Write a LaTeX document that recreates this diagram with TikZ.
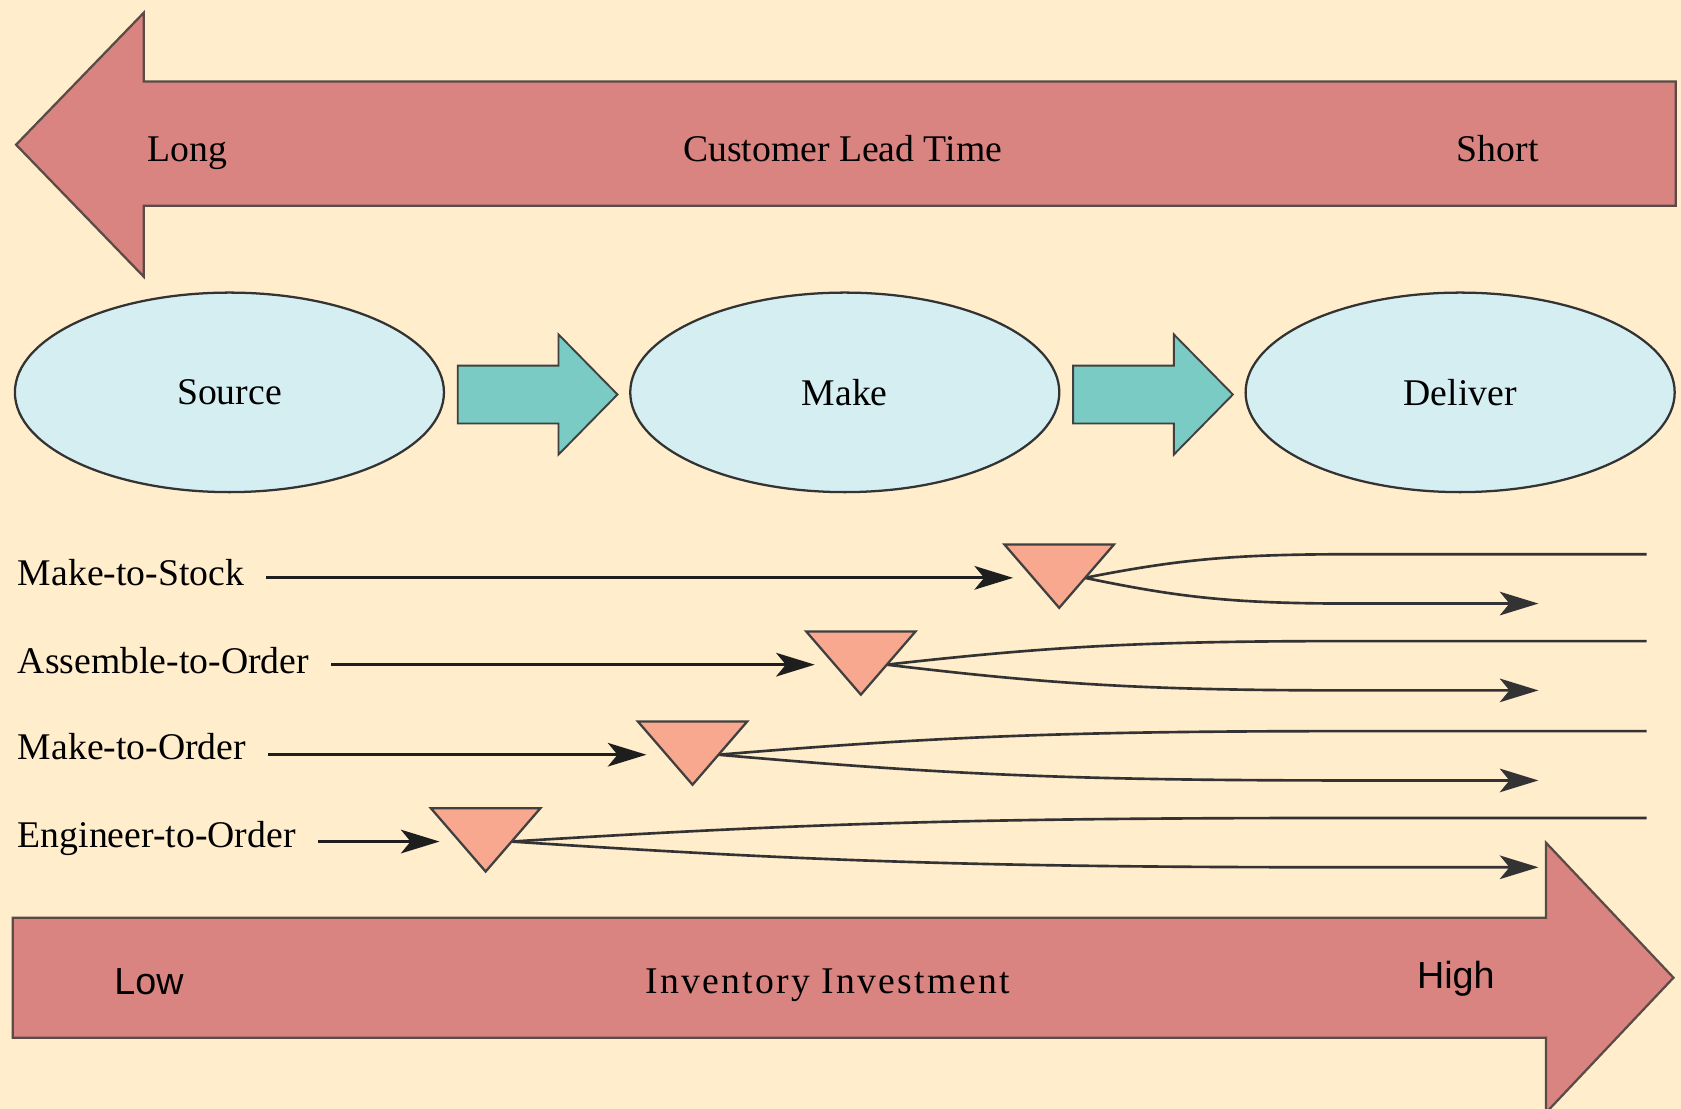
\documentclass[tikz,border=0pt]{standalone}
\usepackage{fontspec}
\setmainfont{Liberation Serif}
\newfontfamily\sansf{Liberation Sans}
\usetikzlibrary{arrows.meta,shapes.geometric,calc}
\definecolor{bgc}{RGB}{255,237,204}
\definecolor{rosef}{RGB}{217,132,128}
\definecolor{bigline}{RGB}{90,75,70}
\definecolor{tealf}{RGB}{121,203,195}
\definecolor{cyanf}{RGB}{213,238,242}
\definecolor{salmonf}{RGB}{247,168,142}
\definecolor{inkc}{RGB}{30,30,30}
\tikzset{
  bigarrow/.style={fill=rosef, draw=bigline, line width=0.6pt, line join=miter},
  tealarrow/.style={fill=tealf, draw=black!75, line width=0.5pt},
  proc/.style={ellipse, fill=cyanf, draw=black!80, line width=0.6pt, minimum width=4cm, minimum height=1.86cm, inner sep=0pt},
  rowlbl/.style={anchor=base west, inner sep=0pt},
  tip/.style={-{Stealth[length=3.6mm,width=2.2mm,inset=0.9mm]}},
  flow/.style={draw=inkc, line width=0.8pt, tip, shorten <=2mm},
  curveline/.style={draw=black!80, line width=0.7pt},
  tri/.style={fill=salmonf, draw=black!75, line width=0.6pt, line join=miter},
  txt/.style={anchor=base, inner sep=0pt}
}
\begin{document}
\begin{tikzpicture}[x=0.01cm, y=-0.01cm, font=\fontsize{10}{12}\selectfont]
\useasboundingbox (0,0) rectangle (1568,1034);
\fill[bgc] (0,0) rectangle (1568,1034);
\begin{scope}
  \clip (0,0) rectangle (1568,1034);
  % top arrow: customer lead time
  \draw[bigarrow] (15,135) -- (134,12) -- (134,76) -- (1563,76) -- (1563,192) -- (134,192) -- (134,258) -- cycle;
  % bottom arrow: inventory investment
  \draw[bigarrow] (12,856) -- (1442,856) -- (1442,786) -- (1561,912) -- (1442,1038) -- (1442,968) -- (12,968) -- cycle;
\end{scope}
\node[txt] (long) at (175,151) {Long};
\node[txt] (clt) at (786,151) {Customer Lead Time};
\node[txt] (short) at (1397,151) {Short};
\node[txt] (low) at (139,928) {\sansf Low};
\node[txt] (inv) at (772,927) {\addfontfeature{LetterSpace=6}Inventory Investment};
\node[txt] (high) at (1358,922) {\sansf High};

% process ellipses
\node[proc] (src) at (214,366) {Source};
\node[proc] (mk) at (788,366) {Make};
\node[proc] (dl) at (1362,366) {Deliver};

% teal arrows between them
\coordinate (a1) at ($(src.east)!0.5!(mk.west)+(0,2)$);
\coordinate (a2) at ($(mk.east)!0.5!(dl.west)+(0,2)$);
\foreach \a in {a1,a2}{
  \draw[tealarrow] ($(\a)+(-74,-27)$) -- ($(\a)+(20,-27)$) -- ($(\a)+(20,-56)$) -- ($(\a)+(75,0)$)
    -- ($(\a)+(20,56)$) -- ($(\a)+(20,27)$) -- ($(\a)+(-74,27)$) -- cycle;
}

% strategy rows
\foreach \i/\lab/\by/\y/\cx in {1/Make-to-Stock/546/539/988, 2/Assemble-to-Order/628/620/803, 3/Make-to-Order/708/704/646, 4/Engineer-to-Order/791/785/453}{
  \node[rowlbl] (l\i) at (16,\by) {\lab};
  \coordinate (apex\i) at (\cx,\y+28);
  \coordinate (tl\i) at (\cx-51,\y-31);
  \coordinate (tr\i) at (\cx+51,\y-31);
  \coordinate (in\i) at (\cx-43,\y);
  \coordinate (s\i) at (\cx+24,\y);
  \pgfmathsetmacro\dd{1260-\cx-24}
  \coordinate (eu\i) at (1260,\y-22);
  \coordinate (ou\i) at (1536,\y-22);
  \coordinate (el\i) at (1260,\y+24);
  \coordinate (ol\i) at (1435,\y+24);
  \draw[flow] (l\i.east |- in\i) -- (in\i);
  \draw[curveline] (s\i) .. controls ($(s\i)+(0.35*\dd,-17)$) and ($(eu\i)-(0.45*\dd,0)$) .. (eu\i) -- (ou\i);
  \draw[curveline,tip] (s\i) .. controls ($(s\i)+(0.35*\dd,18)$) and ($(el\i)-(0.45*\dd,0)$) .. (el\i) -- (ol\i);
  \draw[tri] (tl\i) -- (tr\i) -- (apex\i) -- cycle;
}
\end{tikzpicture}
\end{document}
